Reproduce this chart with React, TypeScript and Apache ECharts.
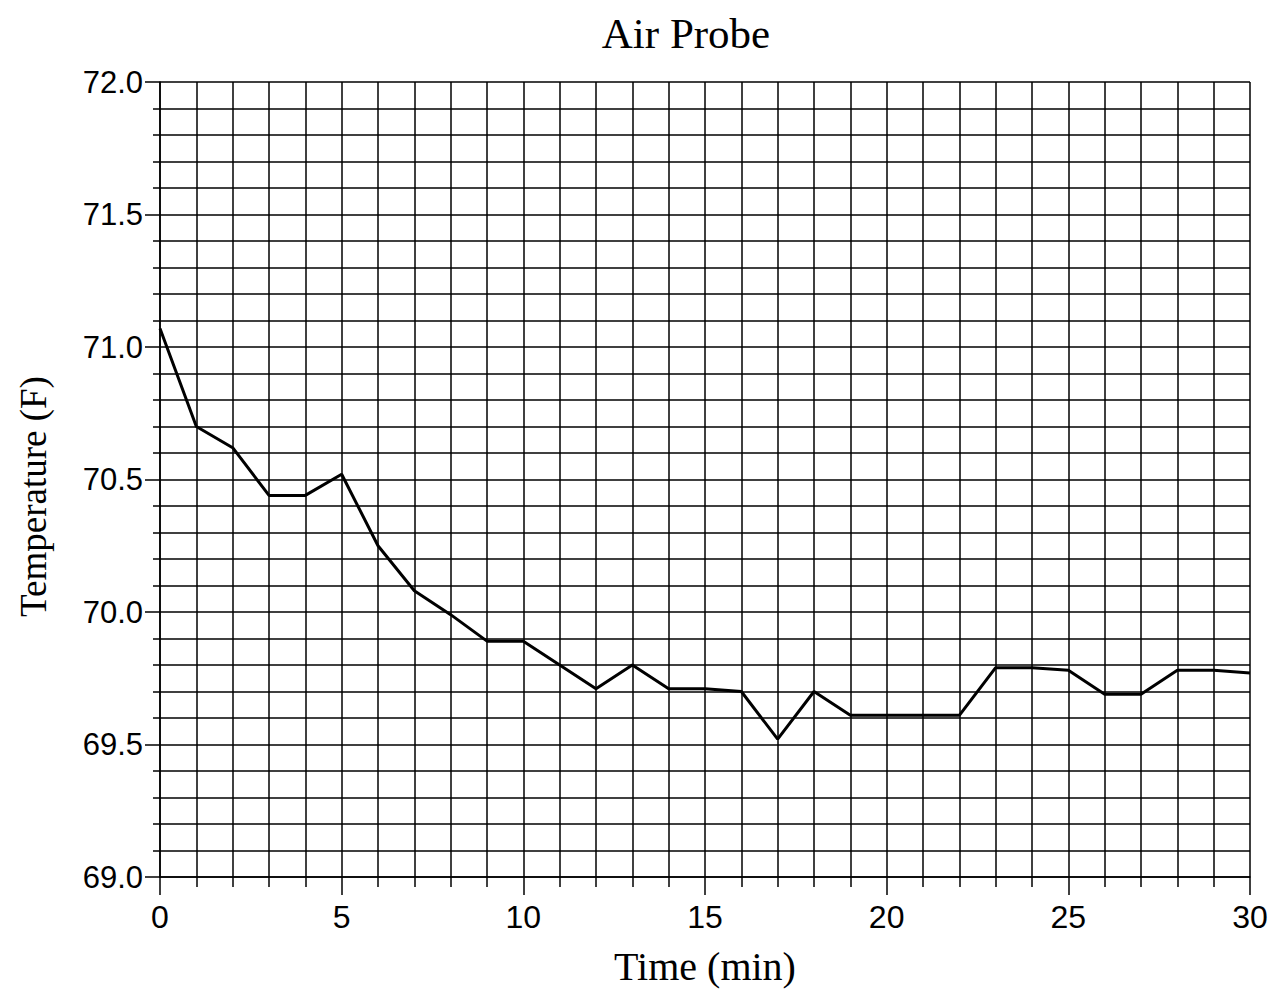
import React, { useEffect, useRef } from "react";
import * as echarts from "echarts";

const times = [0, 1, 2, 3, 4, 5, 6, 7, 8, 9, 10, 11, 12, 13, 14, 15, 16, 17, 18, 19, 20, 21, 22, 23, 24, 25, 26, 27, 28, 29, 30];
const temps = [71.07, 70.70, 70.62, 70.44, 70.44, 70.52, 70.25, 70.08, 69.99, 69.89, 69.89, 69.80, 69.71, 69.80, 69.71, 69.71, 69.70, 69.52, 69.70, 69.61, 69.61, 69.61, 69.61, 69.79, 69.79, 69.78, 69.69, 69.69, 69.78, 69.78, 69.77];

const title = "Air Probe";
const xName = "Time (min)";
const yName = "Temperature (F)";

export default function App() {
  const ref = useRef<HTMLDivElement>(null);
  useEffect(() => {
    if (!ref.current) return;
    const chart = echarts.init(ref.current, null, { renderer: "svg" });
    const serif = "'Liberation Serif', 'Times New Roman', serif";
    const sans = "'Liberation Sans', Arial, sans-serif";
    chart.setOption({
      animation: false,
      backgroundColor: "#fff",
      graphic: [
        {
          type: "text",
          x: 678,
          y: 25,
          style: {
            text: title,
            fontFamily: serif,
            fontSize: 43,
            fill: "#000",
            textAlign: "center",
            textVerticalAlign: "middle",
          },
        },
      ],
      grid: { left: 152, right: 23, top: 74, bottom: 113, containLabel: false, outerBoundsMode: "none" },
      xAxis: {
        type: "value",
        min: 0,
        max: 30,
        interval: 5,
        name: xName,
        nameLocation: "middle",
        nameGap: 69,
        nameTextStyle: { fontFamily: serif, fontSize: 40, color: "#000" },
        axisLine: { show: true, lineStyle: { color: "#000", width: 1.5 } },
        axisTick: { show: true, length: 18, lineStyle: { color: "#000", width: 1.5 } },
        minorTick: { show: true, splitNumber: 5, length: 10, lineStyle: { color: "#000", width: 1.5 } },
        splitLine: { show: true, lineStyle: { color: "#000", width: 1.5 } },
        minorSplitLine: { show: true, lineStyle: { color: "#000", width: 1.5 } },
        axisLabel: { fontFamily: sans, fontSize: 32, color: "#000", margin: 24 },
      },
      yAxis: {
        type: "value",
        min: 69,
        max: 72,
        interval: 0.5,
        name: yName,
        nameLocation: "middle",
        nameGap: 108,
        nameTextStyle: { fontFamily: serif, fontSize: 37, color: "#000", padding: [0, 34, 0, 0] },
        axisLine: { show: true, lineStyle: { color: "#000", width: 1.5 } },
        axisTick: { show: true, length: 15, lineStyle: { color: "#000", width: 1.5 } },
        minorTick: { show: true, splitNumber: 5, length: 7, lineStyle: { color: "#000", width: 1.5 } },
        splitLine: { show: true, lineStyle: { color: "#000", width: 1.5 } },
        minorSplitLine: { show: true, lineStyle: { color: "#000", width: 1.5 } },
        axisLabel: {
          fontFamily: sans,
          fontSize: 31,
          color: "#000",
          margin: 17,
          formatter: (v: number) => v.toFixed(1),
        },
      },
      series: [
        {
          type: "line",
          data: times.map((t, i) => [t, temps[i]]),
          showSymbol: false,
          lineStyle: { color: "#000", width: 3 },
          z: 5,
        },
      ],
    });
    return () => chart.dispose();
  }, []);
  return <div ref={ref} style={{ width: 1265, height: 982 }} />;
}
